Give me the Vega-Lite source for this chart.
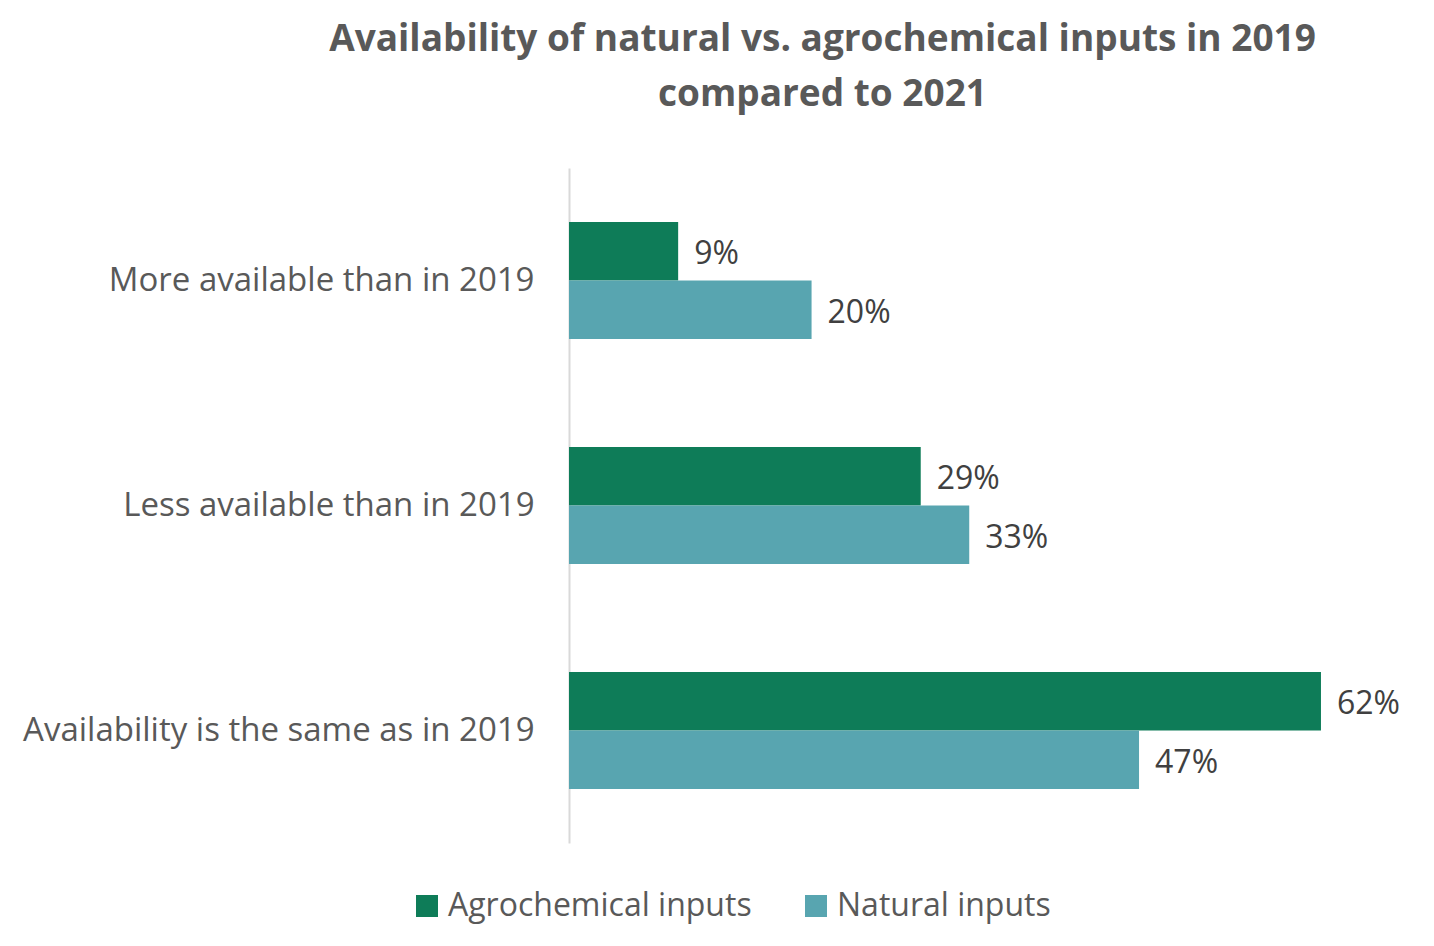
{
  "$schema": "https://vega.github.io/schema/vega-lite/v6.json",
  "autosize": {"type": "none"},
  "width": 849,
  "height": 675,
  "padding": {"left": 569, "top": 168, "right": 16, "bottom": 103},
  "background": "white",
  "config": {
    "view": {"stroke": null},
    "font": "Open Sans"
  },
  "title": {
    "text": ["Availability of natural vs. agrochemical inputs in 2019", "compared to 2021"],
    "anchor": "middle",
    "frame": "group",
    "dx": -171,
    "offset": 54,
    "fontSize": 37,
    "fontWeight": "bold",
    "lineHeight": 55,
    "color": "#595959",
    "font": "Open Sans"
  },
  "data": {
    "values": [
      {"category": "More available than in 2019", "series": "Agrochemical inputs", "value": 0.09},
      {"category": "More available than in 2019", "series": "Natural inputs", "value": 0.20},
      {"category": "Less available than in 2019", "series": "Agrochemical inputs", "value": 0.29},
      {"category": "Less available than in 2019", "series": "Natural inputs", "value": 0.33},
      {"category": "Availability is the same as in 2019", "series": "Agrochemical inputs", "value": 0.62},
      {"category": "Availability is the same as in 2019", "series": "Natural inputs", "value": 0.47}
    ]
  },
  "encoding": {
    "y": {
      "field": "category",
      "type": "nominal",
      "sort": ["More available than in 2019", "Less available than in 2019", "Availability is the same as in 2019"],
      "scale": {"paddingInner": 0.48, "paddingOuter": 0.24},
      "axis": {
        "title": null,
        "ticks": false,
        "domain": true,
        "domainColor": "#d9d9d9",
        "domainWidth": 2,
        "labelFontSize": 33,
        "labelColor": "#595959",
        "labelPadding": 35,
        "labelLimit": 600,
        "labelFont": "Open Sans"
      }
    },
    "yOffset": {
      "field": "series",
      "type": "nominal",
      "sort": ["Agrochemical inputs", "Natural inputs"]
    },
    "x": {
      "field": "value",
      "type": "quantitative",
      "scale": {"domain": [0, 0.7], "nice": false},
      "axis": null
    }
  },
  "layer": [
    {
      "mark": {"type": "bar"},
      "encoding": {
        "color": {
          "field": "series",
          "type": "nominal",
          "sort": ["Agrochemical inputs", "Natural inputs"],
          "scale": {"domain": ["Agrochemical inputs", "Natural inputs"], "range": ["#0e7c58", "#58a5b0"]},
          "legend": {
            "title": null,
            "orient": "none",
            "direction": "horizontal",
            "legendX": -158,
            "legendY": 722,
            "symbolType": "square",
            "symbolSize": 484,
            "symbolStrokeWidth": 0,
            "labelFontSize": 32,
            "labelColor": "#595959",
            "labelFont": "Open Sans",
            "labelOffset": 5,
            "columnPadding": 48,
            "labelLimit": 500
          }
        }
      }
    },
    {
      "mark": {"type": "text", "align": "left", "baseline": "middle", "dx": 16, "dy": 3, "fontSize": 32, "color": "#404040", "font": "Open Sans"},
      "encoding": {
        "text": {"field": "value", "type": "quantitative", "format": ".0%"},
        "detail": {"field": "series"}
      }
    }
  ]
}
